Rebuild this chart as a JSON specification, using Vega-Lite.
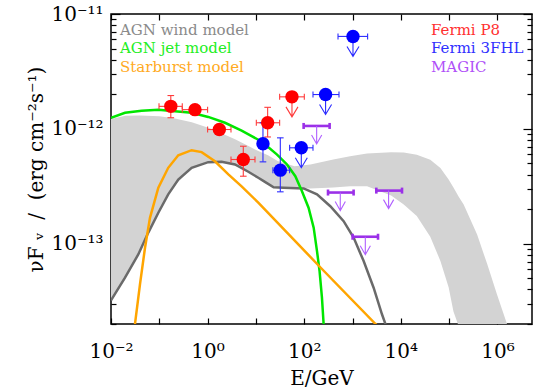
{
  "$schema": "https://vega.github.io/schema/vega-lite/v6.json",
  "width": 421,
  "height": 310,
  "autosize": "none",
  "padding": {"left": 111, "top": 14, "right": 13, "bottom": 67},
  "background": "white",
  "config": {
    "view": {"stroke": "black", "strokeWidth": 1.5},
    "font": "DejaVu Serif",
    "axis": {
      "labelFont": "DejaVu Serif",
      "titleFont": "DejaVu Serif",
      "labelFontSize": 20,
      "titleFontSize": 20,
      "titleFontWeight": "normal",
      "labelColor": "black",
      "titleColor": "black",
      "tickColor": "black",
      "tickWidth": 1.2,
      "domain": false,
      "grid": false,
      "labelOverlap": false,
      "labelFlush": false
    }
  },
  "datasets": {
    "band": [
      {"E": 0.01, "hi": 1.22e-12, "lo": 3.21e-14},
      {"E": 0.02, "hi": 1.30e-12, "lo": 5.06e-14},
      {"E": 0.04, "hi": 1.31e-12, "lo": 8.69e-14},
      {"E": 0.1, "hi": 1.29e-12, "lo": 1.93e-13},
      {"E": 0.2, "hi": 1.24e-12, "lo": 3.17e-13},
      {"E": 0.47, "hi": 1.14e-12, "lo": 4.58e-13},
      {"E": 1, "hi": 1.03e-12, "lo": 5.13e-13},
      {"E": 2, "hi": 9.12e-13, "lo": 5.16e-13},
      {"E": 3.7, "hi": 8.13e-13, "lo": 4.90e-13},
      {"E": 7, "hi": 7.08e-13, "lo": 4.23e-13},
      {"E": 11.2, "hi": 6.40e-13, "lo": 3.75e-13},
      {"E": 17.8, "hi": 5.89e-13, "lo": 3.31e-13},
      {"E": 28.2, "hi": 5.25e-13, "lo": 3.09e-13},
      {"E": 63, "hi": 4.73e-13, "lo": 3.05e-13},
      {"E": 135, "hi": 4.90e-13, "lo": 3.02e-13},
      {"E": 400, "hi": 5.41e-13, "lo": 3.09e-13},
      {"E": 890, "hi": 5.78e-13, "lo": 3.16e-13},
      {"E": 2000, "hi": 6.10e-13, "lo": 3.16e-13},
      {"E": 6300, "hi": 6.27e-13, "lo": 2.63e-13},
      {"E": 11500, "hi": 6.24e-13, "lo": 2.19e-13},
      {"E": 21400, "hi": 5.96e-13, "lo": 1.74e-13},
      {"E": 40700, "hi": 5.37e-13, "lo": 1.15e-13},
      {"E": 66000, "hi": 4.57e-13, "lo": 7.08e-14},
      {"E": 97700, "hi": 3.63e-13, "lo": 4.17e-14},
      {"E": 123000, "hi": 3.09e-13, "lo": 2.57e-14},
      {"E": 158000, "hi": 2.57e-13, "lo": 1.91e-14},
      {"E": 200000, "hi": 2.20e-13, "lo": 1.0e-14},
      {"E": 380000, "hi": 1.20e-13, "lo": 1.0e-14},
      {"E": 617000, "hi": 6.61e-14, "lo": 1.0e-14},
      {"E": 977000, "hi": 3.63e-14, "lo": 1.0e-14},
      {"E": 1580000, "hi": 2.0e-14, "lo": 1.0e-14},
      {"E": 1780000, "hi": 1.58e-14, "lo": 1.0e-14}
    ],
    "models": [
      {"model": "AGN wind model", "E": 0.01, "F": 3.21e-14},
      {"model": "AGN wind model", "E": 0.0195, "F": 5.06e-14},
      {"model": "AGN wind model", "E": 0.0367, "F": 8.07e-14},
      {"model": "AGN wind model", "E": 0.0592, "F": 1.25e-13},
      {"model": "AGN wind model", "E": 0.0955, "F": 1.86e-13},
      {"model": "AGN wind model", "E": 0.153, "F": 2.69e-13},
      {"model": "AGN wind model", "E": 0.247, "F": 3.62e-13},
      {"model": "AGN wind model", "E": 0.467, "F": 4.58e-13},
      {"model": "AGN wind model", "E": 1.03, "F": 5.13e-13},
      {"model": "AGN wind model", "E": 1.95, "F": 5.16e-13},
      {"model": "AGN wind model", "E": 3.69, "F": 4.90e-13},
      {"model": "AGN wind model", "E": 6.97, "F": 4.23e-13},
      {"model": "AGN wind model", "E": 11.2, "F": 3.75e-13},
      {"model": "AGN wind model", "E": 14.5, "F": 3.51e-13},
      {"model": "AGN wind model", "E": 23.3, "F": 3.10e-13},
      {"model": "AGN wind model", "E": 37.4, "F": 3.07e-13},
      {"model": "AGN wind model", "E": 97.3, "F": 3.03e-13},
      {"model": "AGN wind model", "E": 184, "F": 2.69e-13},
      {"model": "AGN wind model", "E": 347, "F": 2.12e-13},
      {"model": "AGN wind model", "E": 655, "F": 1.57e-13},
      {"model": "AGN wind model", "E": 1054, "F": 1.13e-13},
      {"model": "AGN wind model", "E": 1700, "F": 7.06e-14},
      {"model": "AGN wind model", "E": 2735, "F": 4.14e-14},
      {"model": "AGN wind model", "E": 4074, "F": 2.43e-14},
      {"model": "AGN wind model", "E": 4786, "F": 2.01e-14},
      {"model": "AGN wind model", "E": 5250, "F": 1.58e-14},
      {"model": "AGN jet model", "E": 0.01, "F": 1.25e-12},
      {"model": "AGN jet model", "E": 0.0195, "F": 1.38e-12},
      {"model": "AGN jet model", "E": 0.043, "F": 1.44e-12},
      {"model": "AGN jet model", "E": 0.0955, "F": 1.47e-12},
      {"model": "AGN jet model", "E": 0.211, "F": 1.42e-12},
      {"model": "AGN jet model", "E": 0.467, "F": 1.38e-12},
      {"model": "AGN jet model", "E": 1.03, "F": 1.27e-12},
      {"model": "AGN jet model", "E": 2.29, "F": 1.13e-12},
      {"model": "AGN jet model", "E": 5.06, "F": 9.66e-13},
      {"model": "AGN jet model", "E": 7.66, "F": 8.79e-13},
      {"model": "AGN jet model", "E": 11.2, "F": 8.04e-13},
      {"model": "AGN jet model", "E": 14.5, "F": 7.5e-13},
      {"model": "AGN jet model", "E": 27.4, "F": 5.97e-13},
      {"model": "AGN jet model", "E": 44.1, "F": 4.90e-13},
      {"model": "AGN jet model", "E": 65.5, "F": 3.87e-13},
      {"model": "AGN jet model", "E": 89.9, "F": 2.86e-13},
      {"model": "AGN jet model", "E": 123, "F": 2.06e-13},
      {"model": "AGN jet model", "E": 157, "F": 1.38e-13},
      {"model": "AGN jet model", "E": 184, "F": 8.63e-14},
      {"model": "AGN jet model", "E": 208, "F": 5.78e-14},
      {"model": "AGN jet model", "E": 233, "F": 3.39e-14},
      {"model": "AGN jet model", "E": 252, "F": 2.01e-14},
      {"model": "AGN jet model", "E": 263, "F": 1.41e-14},
      {"model": "Starburst model", "E": 0.0302, "F": 1.58e-14},
      {"model": "Starburst model", "E": 0.0314, "F": 2.01e-14},
      {"model": "Starburst model", "E": 0.0398, "F": 4.43e-14},
      {"model": "Starburst model", "E": 0.0506, "F": 9.23e-14},
      {"model": "Starburst model", "E": 0.0641, "F": 1.68e-13},
      {"model": "Starburst model", "E": 0.0955, "F": 3.07e-13},
      {"model": "Starburst model", "E": 0.153, "F": 4.58e-13},
      {"model": "Starburst model", "E": 0.247, "F": 5.89e-13},
      {"model": "Starburst model", "E": 0.467, "F": 6.52e-13},
      {"model": "Starburst model", "E": 0.752, "F": 6.27e-13},
      {"model": "Starburst model", "E": 1.42, "F": 5.22e-13},
      {"model": "Starburst model", "E": 2.69, "F": 4.01e-13},
      {"model": "Starburst model", "E": 5.06, "F": 3.16e-13},
      {"model": "Starburst model", "E": 11.2, "F": 2.28e-13},
      {"model": "Starburst model", "E": 215, "F": 6.24e-14},
      {"model": "Starburst model", "E": 2965, "F": 2.01e-14},
      {"model": "Starburst model", "E": 3981, "F": 1.78e-14}
    ],
    "pts": [
      {"set": "Fermi P8", "E": 0.173, "F": 1.57e-12, "Elo": 0.0986, "Ehi": 0.299, "Flo": 1.25e-12, "Fhi": 1.95e-12, "ul": false},
      {"set": "Fermi P8", "E": 0.548, "F": 1.47e-12, "Elo": 0.299, "Ehi": 1.0, "ul": false},
      {"set": "Fermi P8", "E": 1.75, "F": 9.87e-13, "Elo": 1.0, "Ehi": 3.05, "ul": false},
      {"set": "Fermi P8", "E": 5.48, "F": 5.41e-13, "Elo": 3.05, "Ehi": 9.57, "Flo": 3.87e-13, "Fhi": 7.06e-13, "ul": false},
      {"set": "Fermi P8", "E": 17.5, "F": 1.13e-12, "Elo": 10.2, "Ehi": 31.0, "Flo": 8.5e-13, "Fhi": 1.54e-12, "ul": false},
      {"set": "Fermi P8", "E": 55.8, "F": 1.90e-12, "Elo": 31.0, "Ehi": 100.5, "ul": true},
      {"set": "Fermi 3FHL", "E": 14.0, "F": 7.41e-13, "Flo": 5.16e-13, "Fhi": 1.13e-12, "ul": false},
      {"set": "Fermi 3FHL", "E": 32.0, "F": 4.37e-13, "Elo": 22.5, "Ehi": 49.9, "Flo": 2.83e-13, "Fhi": 8.35e-13, "ul": false},
      {"set": "Fermi 3FHL", "E": 87.1, "F": 6.84e-13, "Elo": 49.9, "Ehi": 152, "ul": true},
      {"set": "Fermi 3FHL", "E": 277, "F": 1.99e-12, "Elo": 152, "Ehi": 525, "ul": true},
      {"set": "Fermi 3FHL", "E": 1023, "F": 6.38e-12, "Elo": 501, "Ehi": 2055, "ul": true}
    ],
    "magic": [
      {"set": "MAGIC", "E": 181, "F": 1.06e-12, "Elo": 97.3, "Ehi": 336},
      {"set": "MAGIC", "E": 558, "F": 2.79e-13, "Elo": 311, "Ehi": 1054},
      {"set": "MAGIC", "E": 5585, "F": 2.90e-13, "Elo": 3112, "Ehi": 10590},
      {"set": "MAGIC", "E": 1841, "F": 1.15e-13, "Elo": 1005, "Ehi": 3373}
    ]
  },
  "layer": [
    {
      "data": {"name": "band"},
      "mark": {"type": "area", "color": "#d3d3d3", "clip": true},
      "encoding": {
        "x": {"field": "E", "type": "quantitative", "scale": {"type": "log", "domain": [0.01, 5.2e6], "nice": false},
          "axis": {"orient": "bottom", "values": [0.01, 0.1, 1, 10, 100, 1000, 10000, 100000, 1000000], "tickSize": -6, "labelPadding": 23, "titlePadding": 7, "title": "E/GeV",
            "labelExpr": "datum.value == 0.01 ? '10⁻²' : datum.value == 1 ? '10⁰' : datum.value == 100 ? '10²' : datum.value == 10000 ? '10⁴' : datum.value == 1000000 ? '10⁶' : ''"}},
        "y": {"field": "hi", "type": "quantitative", "scale": {"type": "log", "domain": [2e-14, 1e-11], "nice": false},
          "axis": {"orient": "left", "title": "νF\u00a0ᵥ\u00a0\u00a0/\u00a0\u00a0(erg cm⁻²s⁻¹)", "titlePadding": 4,
            "values": [2e-14, 3e-14, 4e-14, 5e-14, 6e-14, 7e-14, 8e-14, 9e-14, 1e-13, 2e-13, 3e-13, 4e-13, 5e-13, 6e-13, 7e-13, 8e-13, 9e-13, 1e-12, 2e-12, 3e-12, 4e-12, 5e-12, 6e-12, 7e-12, 8e-12, 9e-12, 1e-11],
            "tickSize": {"condition": {"test": "abs(log(datum.value)/LN10 - round(log(datum.value)/LN10)) < 0.001", "value": -9}, "value": -5},
            "labelPadding": 17,
            "labelExpr": "datum.value == 1e-11 ? '10⁻¹¹' : datum.value == 1e-12 ? '10⁻¹²' : datum.value == 1e-13 ? '10⁻¹³' : ''"}},
        "y2": {"field": "lo"}
      }
    },
    {
      "data": {"name": "models"},
      "mark": {"type": "line", "strokeWidth": 2.5, "clip": true},
      "encoding": {
        "x": {"field": "E", "type": "quantitative", "scale": {"type": "log", "domain": [0.01, 5.2e6], "nice": false},
          "axis": {"orient": "top", "values": [0.01, 0.1, 1, 10, 100, 1000, 10000, 100000, 1000000], "tickSize": -6, "labels": false, "title": null}},
        "y": {"field": "F", "type": "quantitative", "scale": {"type": "log", "domain": [2e-14, 1e-11], "nice": false},
          "axis": {"orient": "right", "title": null, "labels": false,
            "values": [2e-14, 3e-14, 4e-14, 5e-14, 6e-14, 7e-14, 8e-14, 9e-14, 1e-13, 2e-13, 3e-13, 4e-13, 5e-13, 6e-13, 7e-13, 8e-13, 9e-13, 1e-12, 2e-12, 3e-12, 4e-12, 5e-12, 6e-12, 7e-12, 8e-12, 9e-12, 1e-11],
            "tickSize": {"condition": {"test": "abs(log(datum.value)/LN10 - round(log(datum.value)/LN10)) < 0.001", "value": -9}, "value": -5}}},
        "color": {"field": "model", "type": "nominal",
          "scale": {"domain": ["AGN wind model", "AGN jet model", "Starburst model"], "range": ["#6a6a6a", "#00e600", "#ffa500"]},
          "legend": {"orient": "top-left", "title": null, "offset": 8, "padding": 0, "symbolSize": 0, "symbolStrokeWidth": 0, "symbolOpacity": 0, "labelOffset": -14, "labelFont": "DejaVu Serif", "labelFontSize": 15, "rowPadding": 2.5,
            "encode": {"labels": {"update": {"fill": {"signal": "datum.value == 'AGN wind model' ? '#8a8a8a' : datum.value == 'AGN jet model' ? '#22ee22' : '#ffaa22'"}}}}}}
      }
    },
    {
      "data": {"name": "pts"},
      "transform": [{"filter": "datum.Elo != null"}],
      "mark": {"type": "rule", "strokeWidth": 1.1, "clip": true},
      "encoding": {
        "x": {"field": "Elo", "type": "quantitative", "scale": {"type": "log", "domain": [0.01, 5.2e6], "nice": false}, "axis": null},
        "x2": {"field": "Ehi"},
        "y": {"field": "F", "type": "quantitative", "scale": {"type": "log", "domain": [2e-14, 1e-11], "nice": false}, "axis": null},
        "color": {"field": "set", "type": "nominal", "scale": {"domain": ["Fermi P8", "Fermi 3FHL"], "range": ["#ff3b3b", "#2b2bff"]}, "legend": null}
      }
    },
    {
      "data": {"name": "pts"},
      "transform": [{"filter": "datum.Elo != null"}],
      "mark": {"type": "point", "shape": "M0,-1L0,1", "size": 36, "strokeWidth": 1.1, "filled": false, "opacity": 1, "clip": true},
      "encoding": {
        "x": {"field": "Elo", "type": "quantitative", "scale": {"type": "log", "domain": [0.01, 5.2e6], "nice": false}, "axis": null},
        "y": {"field": "F", "type": "quantitative", "scale": {"type": "log", "domain": [2e-14, 1e-11], "nice": false}, "axis": null},
        "color": {"field": "set", "type": "nominal", "scale": {"domain": ["Fermi P8", "Fermi 3FHL"], "range": ["#ff3b3b", "#2b2bff"]}, "legend": null}
      }
    },
    {
      "data": {"name": "pts"},
      "transform": [{"filter": "datum.Ehi != null"}],
      "mark": {"type": "point", "shape": "M0,-1L0,1", "size": 36, "strokeWidth": 1.1, "filled": false, "opacity": 1, "clip": true},
      "encoding": {
        "x": {"field": "Ehi", "type": "quantitative", "scale": {"type": "log", "domain": [0.01, 5.2e6], "nice": false}, "axis": null},
        "y": {"field": "F", "type": "quantitative", "scale": {"type": "log", "domain": [2e-14, 1e-11], "nice": false}, "axis": null},
        "color": {"field": "set", "type": "nominal", "scale": {"domain": ["Fermi P8", "Fermi 3FHL"], "range": ["#ff3b3b", "#2b2bff"]}, "legend": null}
      }
    },
    {
      "data": {"name": "pts"},
      "transform": [{"filter": "datum.Flo != null"}],
      "mark": {"type": "rule", "strokeWidth": 1.1, "clip": true},
      "encoding": {
        "x": {"field": "E", "type": "quantitative", "scale": {"type": "log", "domain": [0.01, 5.2e6], "nice": false}, "axis": null},
        "y": {"field": "Flo", "type": "quantitative", "scale": {"type": "log", "domain": [2e-14, 1e-11], "nice": false}, "axis": null},
        "y2": {"field": "Fhi"},
        "color": {"field": "set", "type": "nominal", "scale": {"domain": ["Fermi P8", "Fermi 3FHL"], "range": ["#ff3b3b", "#2b2bff"]}, "legend": null}
      }
    },
    {
      "data": {"name": "pts"},
      "transform": [{"filter": "datum.Flo != null"}],
      "mark": {"type": "point", "shape": "M-1,0L1,0", "size": 44, "strokeWidth": 1.1, "filled": false, "opacity": 1, "clip": true},
      "encoding": {
        "x": {"field": "E", "type": "quantitative", "scale": {"type": "log", "domain": [0.01, 5.2e6], "nice": false}, "axis": null},
        "y": {"field": "Flo", "type": "quantitative", "scale": {"type": "log", "domain": [2e-14, 1e-11], "nice": false}, "axis": null},
        "color": {"field": "set", "type": "nominal", "scale": {"domain": ["Fermi P8", "Fermi 3FHL"], "range": ["#ff3b3b", "#2b2bff"]}, "legend": null}
      }
    },
    {
      "data": {"name": "pts"},
      "transform": [{"filter": "datum.Fhi != null"}],
      "mark": {"type": "point", "shape": "M-1,0L1,0", "size": 44, "strokeWidth": 1.1, "filled": false, "opacity": 1, "clip": true},
      "encoding": {
        "x": {"field": "E", "type": "quantitative", "scale": {"type": "log", "domain": [0.01, 5.2e6], "nice": false}, "axis": null},
        "y": {"field": "Fhi", "type": "quantitative", "scale": {"type": "log", "domain": [2e-14, 1e-11], "nice": false}, "axis": null},
        "color": {"field": "set", "type": "nominal", "scale": {"domain": ["Fermi P8", "Fermi 3FHL"], "range": ["#ff3b3b", "#2b2bff"]}, "legend": null}
      }
    },
    {
      "data": {"name": "pts"},
      "transform": [{"filter": "datum.ul"}],
      "mark": {"type": "point", "shape": "M0,0L0,3.33M-1,1.67L0,3.33L1,1.67", "size": 144, "strokeWidth": 1.1, "filled": false, "opacity": 1, "clip": true},
      "encoding": {
        "x": {"field": "E", "type": "quantitative", "scale": {"type": "log", "domain": [0.01, 5.2e6], "nice": false}, "axis": null},
        "y": {"field": "F", "type": "quantitative", "scale": {"type": "log", "domain": [2e-14, 1e-11], "nice": false}, "axis": null},
        "color": {"field": "set", "type": "nominal", "scale": {"domain": ["Fermi P8", "Fermi 3FHL"], "range": ["#ff3b3b", "#2b2bff"]}, "legend": null}
      }
    },
    {
      "data": {"name": "pts"},
      "mark": {"type": "point", "shape": "circle", "size": 180, "filled": true, "opacity": 1, "clip": true},
      "encoding": {
        "x": {"field": "E", "type": "quantitative", "scale": {"type": "log", "domain": [0.01, 5.2e6], "nice": false}, "axis": null},
        "y": {"field": "F", "type": "quantitative", "scale": {"type": "log", "domain": [2e-14, 1e-11], "nice": false}, "axis": null},
        "color": {"field": "set", "type": "nominal",
          "scale": {"domain": ["Fermi P8", "Fermi 3FHL", "MAGIC"], "range": ["#ff0000", "#0000ff", "#a020f0"]},
          "legend": {"orient": "top-right", "title": null, "offset": 8, "padding": 0, "symbolSize": 0, "symbolStrokeWidth": 0, "symbolOpacity": 0, "labelOffset": 0, "labelFont": "DejaVu Serif", "labelFontSize": 15, "rowPadding": 2.5,
            "encode": {"labels": {"update": {"fill": {"signal": "datum.value == 'Fermi P8' ? '#ff3030' : datum.value == 'Fermi 3FHL' ? '#3030ff' : '#b050f8'"}}}}}}
      }
    },
    {
      "data": {"name": "magic"},
      "mark": {"type": "rule", "strokeWidth": 2.6, "clip": true},
      "encoding": {
        "x": {"field": "Elo", "type": "quantitative", "scale": {"type": "log", "domain": [0.01, 5.2e6], "nice": false}, "axis": null},
        "x2": {"field": "Ehi"},
        "y": {"field": "F", "type": "quantitative", "scale": {"type": "log", "domain": [2e-14, 1e-11], "nice": false}, "axis": null},
        "color": {"field": "set", "type": "nominal", "scale": {"domain": ["MAGIC"], "range": ["#9b30e8"]}, "legend": null}
      }
    },
    {
      "data": {"name": "magic"},
      "mark": {"type": "point", "shape": "M0,-1L0,1", "size": 36, "strokeWidth": 2.6, "filled": false, "opacity": 1, "clip": true},
      "encoding": {
        "x": {"field": "Elo", "type": "quantitative", "scale": {"type": "log", "domain": [0.01, 5.2e6], "nice": false}, "axis": null},
        "y": {"field": "F", "type": "quantitative", "scale": {"type": "log", "domain": [2e-14, 1e-11], "nice": false}, "axis": null},
        "color": {"field": "set", "type": "nominal", "scale": {"domain": ["MAGIC"], "range": ["#9b30e8"]}, "legend": null}
      }
    },
    {
      "data": {"name": "magic"},
      "mark": {"type": "point", "shape": "M0,-1L0,1", "size": 36, "strokeWidth": 2.6, "filled": false, "opacity": 1, "clip": true},
      "encoding": {
        "x": {"field": "Ehi", "type": "quantitative", "scale": {"type": "log", "domain": [0.01, 5.2e6], "nice": false}, "axis": null},
        "y": {"field": "F", "type": "quantitative", "scale": {"type": "log", "domain": [2e-14, 1e-11], "nice": false}, "axis": null},
        "color": {"field": "set", "type": "nominal", "scale": {"domain": ["MAGIC"], "range": ["#9b30e8"]}, "legend": null}
      }
    },
    {
      "data": {"name": "magic"},
      "mark": {"type": "point", "shape": "M0,0L0,3M-0.85,1.5L0,3L0.85,1.5", "size": 144, "strokeWidth": 1.1, "filled": false, "opacity": 1, "clip": true},
      "encoding": {
        "x": {"field": "E", "type": "quantitative", "scale": {"type": "log", "domain": [0.01, 5.2e6], "nice": false}, "axis": null},
        "y": {"field": "F", "type": "quantitative", "scale": {"type": "log", "domain": [2e-14, 1e-11], "nice": false}, "axis": null},
        "color": {"field": "set", "type": "nominal", "scale": {"domain": ["MAGIC"], "range": ["#b060ff"]}, "legend": null}
      }
    }
  ],
  "resolve": {"scale": {"color": "independent"}, "axis": {"x": "independent", "y": "independent"}}
}
